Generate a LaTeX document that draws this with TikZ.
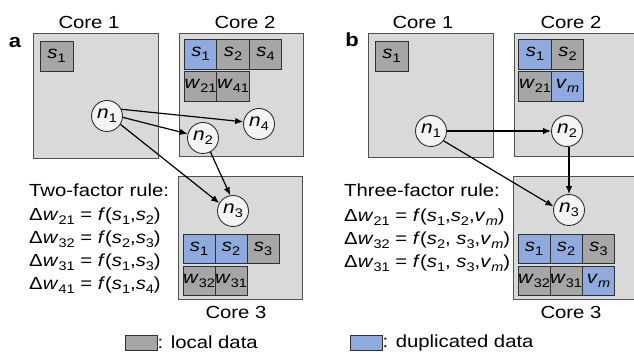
\documentclass[tikz,border=0pt]{standalone}
\usepackage{fontspec}
\setmainfont{Liberation Sans}[FakeStretch=1.16]
\usetikzlibrary{arrows.meta}
\definecolor{corefill}{HTML}{D9D9D9}
\definecolor{coreline}{HTML}{505050}
\definecolor{cellgray}{HTML}{A6A6A6}
\definecolor{cellblue}{HTML}{8FAADC}
\definecolor{cellline}{HTML}{303030}
\definecolor{neuronfill}{HTML}{F4F4F4}
\newcommand\sbs[1]{\raisebox{-3.8pt}{\fontsize{12.5}{12.5}\selectfont #1}}
\newcommand\vr[2]{\textit{#1}\sbs{#2}}
\newcommand\vmm{\textit{v}\sbs{\textit{m}}}
\begin{document}
\begin{tikzpicture}[x=1pt,y=-1pt,font=\fontsize{17.5}{21}\selectfont,
  corebox/.style={draw=coreline,line width=1pt,fill=corefill,inner sep=0pt},
  cellg/.style={draw=cellline,line width=0.9pt,fill=cellgray,minimum width=32.5pt,minimum height=30pt,inner sep=0pt,font=\fontsize{17.5}{18}\selectfont},
  cellb/.style={cellg,fill=cellblue},
  neuron/.style={circle,draw=cellline,line width=0.9pt,fill=neuronfill,minimum size=31pt,inner sep=0pt,font=\fontsize{18}{18}\selectfont},
  conn/.style={line width=1.2pt,-{Latex[length=8pt,width=6.5pt]}},
  lbl/.style={inner sep=0pt},
  panel/.style={font=\fontsize{19}{20}\selectfont\bfseries,inner sep=0pt}]
\useasboundingbox (0,0) rectangle (634,352);
\clip (0,0) rectangle (634,352);
% ---------- panel a ----------
\node[panel] (pa) at (15,42) {a};
\node[corebox,minimum width=125pt,minimum height=125pt] (a1) at (95.5,96.5) {};
\node[corebox,minimum width=124pt,minimum height=123pt] (a2) at (241,95.5) {};
\node[corebox,minimum width=124pt,minimum height=123pt] (a3) at (240,238.5) {};
\node[lbl] (a1l) at (89,22) {Core 1};
\node[lbl] (a2l) at (245,22) {Core 2};
\node[lbl] (a3l) at (236,312) {Core 3};
\node[cellg,minimum width=33pt] (a1s1) at (56.5,56) {\vr{s}{1}};
\node[cellb] (a2s1) at (200.5,54) {\vr{s}{1}};
\node[cellg] (a2s2) at (233,54) {\vr{s}{2}};
\node[cellg] (a2s4) at (265.5,54) {\vr{s}{4}};
\node[cellg] (a2w21) at (200.5,86) {\vr{w}{21}};
\node[cellg] (a2w41) at (233,86) {\vr{w}{41}};
\node[cellb,minimum width=32pt,minimum height=29pt] (a3s1) at (199,248.5) {\vr{s}{1}};
\node[cellb,minimum width=32pt,minimum height=29pt] (a3s2) at (231,248.5) {\vr{s}{2}};
\node[cellg,minimum width=32pt,minimum height=29pt] (a3s3) at (263,248.5) {\vr{s}{3}};
\node[cellg,minimum width=32pt,minimum height=29pt] (a3w32) at (199,281) {\vr{w}{32}};
\node[cellg,minimum width=32pt,minimum height=29pt] (a3w31) at (231,281) {\vr{w}{31}};
\node[neuron] (an1) at (107,116) {\vr{n}{1}};
\node[neuron] (an4) at (259,124) {\vr{n}{4}};
\node[neuron] (an2) at (203,138) {\vr{n}{2}};
\node[neuron] (an3) at (233,211) {\vr{n}{3}};
\draw[conn] (an1.25) -- (an4.172);
\draw[conn] (an1.-5) -- (an2.165);
\draw[conn] (an1.-32) -- (an3.150);
\draw[conn] (an2.-62) -- (an3.100);
\node[lbl,anchor=base west] (ar0) at (29,197) {Two-factor rule:};
\node[lbl,anchor=base west] (ar1) at (29,221) {Δ\vr{w}{21} = \textit{f}(\vr{s}{1},\vr{s}{2})};
\node[lbl,anchor=base west] (ar2) at (29,244) {Δ\vr{w}{32} = \textit{f}(\vr{s}{2},\vr{s}{3})};
\node[lbl,anchor=base west] (ar3) at (29,267) {Δ\vr{w}{31} = \textit{f}(\vr{s}{1},\vr{s}{3})};
\node[lbl,anchor=base west] (ar4) at (29,290) {Δ\vr{w}{41} = \textit{f}(\vr{s}{1},\vr{s}{4})};
% ---------- panel b ----------
\node[panel] (pb) at (352,40) {b};
\node[corebox,minimum width=125pt,minimum height=124pt] (b1) at (430.5,96) {};
\node[corebox,minimum width=124pt,minimum height=123pt] (b2) at (576,95.5) {};
\node[corebox,minimum width=124pt,minimum height=123pt] (b3) at (575,238.5) {};
\node[lbl] (b1l) at (423,22) {Core 1};
\node[lbl] (b2l) at (571,22) {Core 2};
\node[lbl] (b3l) at (571,312) {Core 3};
\node[cellg,minimum width=33pt] (b1s1) at (391.5,56) {\vr{s}{1}};
\node[cellb] (b2s1) at (535,54) {\vr{s}{1}};
\node[cellg] (b2s2) at (567.5,54) {\vr{s}{2}};
\node[cellg] (b2w21) at (535,86) {\vr{w}{21}};
\node[cellb] (b2vm) at (567.5,86) {\vmm};
\node[cellb,minimum width=32pt,minimum height=29pt] (b3s1) at (534,248.5) {\vr{s}{1}};
\node[cellb,minimum width=32pt,minimum height=29pt] (b3s2) at (566,248.5) {\vr{s}{2}};
\node[cellg,minimum width=32pt,minimum height=29pt] (b3s3) at (598.5,248.5) {\vr{s}{3}};
\node[cellg,minimum width=32pt,minimum height=29pt] (b3w32) at (534,281) {\vr{w}{32}};
\node[cellg,minimum width=32pt,minimum height=29pt] (b3w31) at (566,281) {\vr{w}{31}};
\node[cellb,minimum width=32pt,minimum height=29pt] (b3vm) at (598.5,281) {\vmm};
\node[neuron] (bn1) at (431,131) {\vr{n}{1}};
\node[neuron] (bn2) at (567,131) {\vr{n}{2}};
\node[neuron] (bn3) at (569,210) {\vr{n}{3}};
\draw[conn] (bn1) -- (bn2);
\draw[conn] (bn1.-38) -- (bn3.167);
\draw[conn] (bn2.south -| bn3.north) -- (bn3.north);
\node[lbl,anchor=base west] (br0) at (344,197) {Three-factor rule:};
\node[lbl,anchor=base west] (br1) at (344,222) {Δ\vr{w}{21} = \textit{f}(\vr{s}{1},\vr{s}{2},\vmm)};
\node[lbl,anchor=base west] (br2) at (344,245) {Δ\vr{w}{32} = \textit{f}(\vr{s}{2}, \vr{s}{3},\vmm)};
\node[lbl,anchor=base west] (br3) at (344,268) {Δ\vr{w}{31} = \textit{f}(\vr{s}{1}, \vr{s}{3},\vmm)};
% ---------- legend ----------
\node[cellg,minimum width=32pt,minimum height=15pt] (lg) at (141,342.5) {};
\node[lbl,anchor=west] (lgt) at (lg.east) {: local data};
\node[cellb,minimum width=32pt,minimum height=15pt] (lb) at (366,342.5) {};
\node[lbl,anchor=west] (lbt) at (lb.east) {: duplicated data};
\end{tikzpicture}
\end{document}
